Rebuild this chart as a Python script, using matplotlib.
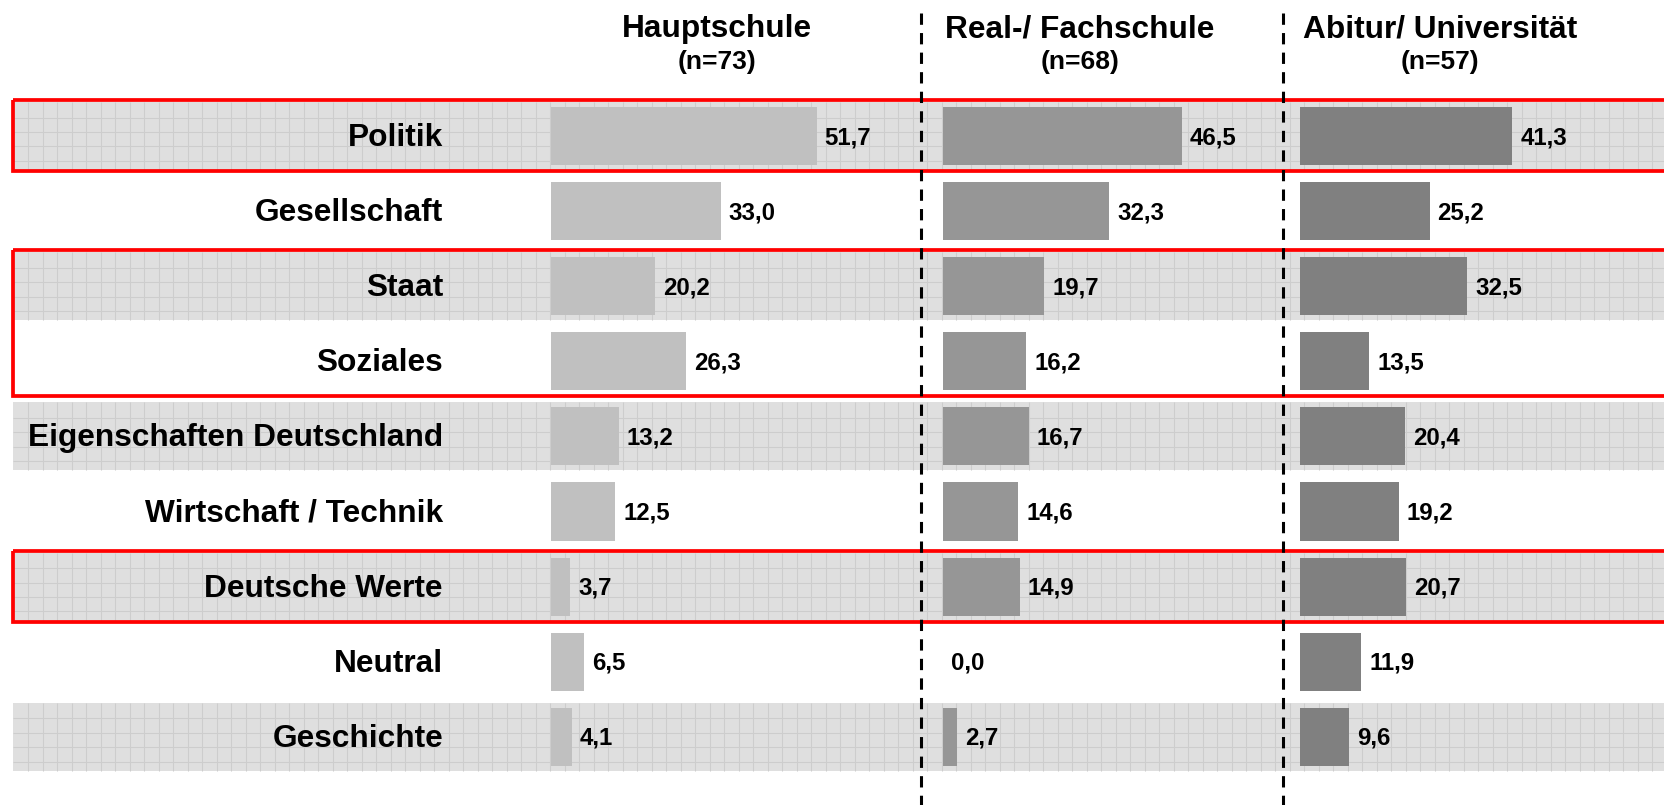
import matplotlib
matplotlib.use("Agg")
import matplotlib.pyplot as plt
from matplotlib.patches import Rectangle
from matplotlib.collections import LineCollection
from matplotlib.lines import Line2D

# ---- data ----
categories = ["Politik", "Gesellschaft", "Staat", "Soziales",
              "Eigenschaften Deutschland", "Wirtschaft / Technik",
              "Deutsche Werte", "Neutral", "Geschichte"]
groups = ["Hauptschule", "Real-/ Fachschule", "Abitur/ Universität"]
group_n = ["(n=73)", "(n=68)", "(n=57)"]
hauptschule = [51.7, 33.0, 20.2, 26.3, 13.2, 12.5, 3.7, 6.5, 4.1]
realschule = [46.5, 32.3, 19.7, 16.2, 16.7, 14.6, 14.9, 0.0, 2.7]
abitur = [41.3, 25.2, 32.5, 13.5, 20.4, 19.2, 20.7, 11.9, 9.6]
series = [hauptschule, realschule, abitur]
banded_rows = [0, 2, 4, 6, 8]
boxed_rows = [(0, 0), (2, 3), (6, 6)]

# ---- layout (pixels) ----
W, H = 1664, 805
ROW0, ROWSTEP = 136.0, 75.1
PXU = 5.14  # pixels per percent
panel_left = [551, 943, 1300]
panel_right = [900, 1270, 1664]
title_x = [717, 1080, 1440]
colors = ["#C0C0C0", "#969696", "#808080"]
sep_x = [921, 1283]

fig = plt.figure(figsize=(W / 100, H / 100), dpi=100)
fig.patch.set_facecolor("white")
FONT = "Liberation Sans"

ytop = -ROW0 / ROWSTEP
ybot = (H - ROW0) / ROWSTEP

# background axes: x in pixels, y in row units
bg = fig.add_axes([0, 0, 1, 1])
bg.set_xlim(0, W)
bg.set_ylim(ybot, ytop)
bg.axis("off")

half = 34 / ROWSTEP
for r in banded_rows:
    bg.add_patch(Rectangle((13, r - half), W - 13, 2 * half,
                           facecolor="#DFDFDF", edgecolor="none", zorder=1))
    segs = []
    x = 28.0
    while x < W:
        segs.append([(x, r - half), (x, r + half)])
        x += 14.5
    off = 15.6
    while off < 68:
        yy = r - half + off / ROWSTEP
        segs.append([(13, yy), (W, yy)])
        off += 14.4
    bg.add_collection(LineCollection(segs, colors="#CDCDCD", linewidths=0.75, zorder=2))

for (a, b) in boxed_rows:
    top = a - 36 / ROWSTEP
    bottom = b + 35 / ROWSTEP
    bg.add_patch(Rectangle((13, top), W + 50, bottom - top, facecolor="none",
                           edgecolor="#FF0000", linewidth=2.7, zorder=3))

for i, cat in enumerate(categories):
    bg.text(443, i + 2 / ROWSTEP, cat, ha="right", va="center", fontsize=22.8,
            fontweight="bold", family=FONT, color="black", zorder=4)

# bar axes
for k in range(3):
    l, r = panel_left[k], panel_right[k]
    ax = fig.add_axes([l / W, 0, (r - l) / W, 1])
    ax.set_xlim(0, (r - l) / PXU)
    ax.set_ylim(ybot, ytop)
    ax.axis("off")
    ax.patch.set_alpha(0)
    vals = series[k]
    ax.barh(range(len(categories)), vals, height=58 / ROWSTEP, color=colors[k],
            edgecolor="none", zorder=2)
    for i, v in enumerate(vals):
        ax.text(v + 8 / PXU, i + 1.5 / ROWSTEP, f"{v:.1f}".replace(".", ","),
                ha="left", va="center", fontsize=17.3, fontweight="bold",
                family=FONT, color="black", zorder=3)
    fig.text(title_x[k] / W, 1 - 37 / H, groups[k], ha="center", va="baseline",
             fontsize=22.8, fontweight="bold", family=FONT)
    fig.text(title_x[k] / W, 1 - 69 / H, group_n[k], ha="center", va="baseline",
             fontsize=19, fontweight="bold", family=FONT)

for sx in sep_x:
    fig.add_artist(Line2D([sx / W, sx / W], [1 - 13 / H, 0], transform=fig.transFigure,
                          color="black", linewidth=2.2, linestyle=(0, (3.7, 2.7)),
                          zorder=10))

fig.savefig("out.png", dpi=100, facecolor="white")
